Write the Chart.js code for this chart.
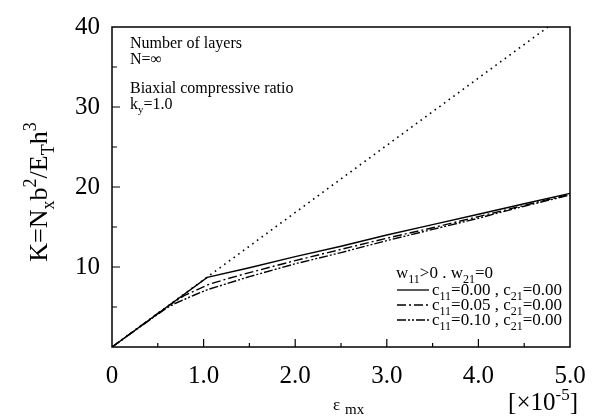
<!DOCTYPE html>
<html>
<head>
<meta charset="utf-8">
<script src="https://cdn.jsdelivr.net/npm/chart.js@4/dist/chart.umd.min.js"></script>
<style>
  html, body { margin: 0; padding: 0; background: #fff; }
</style>
</head>
<body>
<canvas id="bucklingChart" width="602" height="420"></canvas>
<script>
// strain axis (x 1e-5) and load parameter K
const xTickValues = [0, 1, 2, 3, 4, 5];
const yTickValues = [10, 20, 30, 40];

const linearX = [0, 4.76];
const linearK = [0, 40];

const c000X = [0, 1.04, 1.5, 2.0, 2.5, 3.0, 3.5, 4.0, 4.5, 5.0];
const c000K = [0, 8.7, 9.9, 11.3, 12.6, 14.0, 15.3, 16.6, 17.9, 19.2];

const c005X = [0, 0.5, 0.7, 0.8, 0.9, 1.05, 1.25, 1.5, 2.0, 2.5, 3.0, 3.5, 4.0, 4.5, 5.0];
const c005K = [0, 4.2, 5.8, 6.5, 7.0, 7.8, 8.5, 9.3, 10.8, 12.2, 13.6, 14.9, 16.3, 17.7, 19.1];

const c010X = [0, 0.5, 0.6, 0.7, 0.8, 0.9, 1.05, 1.25, 1.5, 2.0, 2.5, 3.0, 3.5, 4.0, 4.5, 5.0];
const c010K = [0, 4.1, 4.9, 5.5, 6.0, 6.5, 7.2, 7.9, 8.8, 10.4, 11.8, 13.3, 14.7, 16.1, 17.6, 19.0];

const SERIF = '"Liberation Serif", "DejaVu Serif", serif';

function pts(xs, ys) {
    return xs.map((x, i) => ({ x: x, y: ys[i] }));
}

// draws text with sub/superscripts, parts = [[text, 'n'|'sub'|'sup'], ...]
function drawRich(ctx, parts, x, y, size, align) {
    const small = Math.round(size * 0.68);
    let total = 0;
    parts.forEach(p => {
        ctx.font = (p[1] === 'n' ? size : small) + 'px ' + SERIF;
        total += ctx.measureText(p[0]).width;
    });
    let cx = x;
    if (align === 'center') cx = x - total / 2;
    if (align === 'right') cx = x - total;
    ctx.textAlign = 'left';
    ctx.textBaseline = 'alphabetic';
    parts.forEach(p => {
        let dy = 0;
        if (p[1] === 'sub') dy = size * 0.28;
        if (p[1] === 'sup') dy = -size * 0.42;
        ctx.font = (p[1] === 'n' ? size : small) + 'px ' + SERIF;
        ctx.fillText(p[0], cx, y + dy);
        cx += ctx.measureText(p[0]).width;
    });
}

const decorPlugin = {
    id: 'decor',
    afterDraw(chart) {
        const ctx = chart.ctx;
        const a = chart.chartArea;
        const xs = chart.scales.x;
        const ys = chart.scales.y;
        ctx.save();
        ctx.strokeStyle = '#000';
        ctx.fillStyle = '#000';

        // frame
        ctx.lineWidth = 1.5;
        ctx.strokeRect(a.left, a.top, a.right - a.left, a.bottom - a.top);

        // inward ticks
        ctx.lineWidth = 1.2;
        ctx.beginPath();
        for (let v = 0.5; v < 5; v += 0.5) {
            const px = xs.getPixelForValue(v);
            const len = Number.isInteger(v) ? 8 : 4;
            ctx.moveTo(px, a.bottom);
            ctx.lineTo(px, a.bottom - len);
        }
        for (let v = 5; v < 40; v += 5) {
            const py = ys.getPixelForValue(v);
            const len = v % 10 === 0 ? 8 : 5;
            ctx.moveTo(a.left, py);
            ctx.lineTo(a.left + len, py);
        }
        ctx.stroke();

        // notes in the upper left
        drawRich(ctx, [['Number of layers', 'n']], 130, 48, 16, 'left');
        drawRich(ctx, [['N=\u221E', 'n']], 130, 64, 16, 'left');
        drawRich(ctx, [['Biaxial compressive ratio', 'n']], 130, 93, 16, 'left');
        drawRich(ctx, [['k', 'n'], ['y', 'sub'], ['=1.0', 'n']], 130, 109, 16, 'left');

        // legend
        drawRich(ctx, [['w', 'n'], ['11', 'sub'], ['>0 . w', 'n'], ['21', 'sub'], ['=0', 'n']], 396, 278, 17, 'left');
        const rows = [
            { y: 290, dash: [] },
            { y: 305, dash: [9, 3, 2, 3] },
            { y: 320, dash: [9, 2, 2, 2, 2, 2] }
        ];
        const labels = ['0.00', '0.05', '0.10'];
        rows.forEach((r, i) => {
            ctx.lineWidth = 1.3;
            ctx.setLineDash(r.dash);
            ctx.beginPath();
            ctx.moveTo(397, r.y);
            ctx.lineTo(429, r.y);
            ctx.stroke();
            ctx.setLineDash([]);
            drawRich(ctx, [['c', 'n'], ['11', 'sub'], ['=' + labels[i] + ' , c', 'n'], ['21', 'sub'], ['=0.00', 'n']], 432, r.y + 5, 17, 'left');
        });

        // x axis title
        drawRich(ctx, [['\u03B5', 'n']], 333, 410, 17, 'left');
        drawRich(ctx, [['mx', 'n']], 345, 414, 15, 'left');
        drawRich(ctx, [['[\u00D710', 'n'], ['-5', 'sup'], [']', 'n']], 578, 410, 25, 'right');

        // y axis title
        ctx.translate(47, 192);
        ctx.rotate(-Math.PI / 2);
        drawRich(ctx, [['K=N', 'n'], ['x', 'sub'], ['b', 'n'], ['2', 'sup'], ['/E', 'n'], ['T', 'sub'], ['h', 'n'], ['3', 'sup']], 0, 0, 26, 'center');

        ctx.restore();
    }
};

new Chart(document.getElementById('bucklingChart'), {
    type: 'scatter',
    data: {
        datasets: [
            { data: pts(linearX, linearK), borderColor: '#000', borderWidth: 1.6, borderDash: [1.6, 4.2] },
            { data: pts(c000X, c000K), borderColor: '#000', borderWidth: 1.4 },
            { data: pts(c005X, c005K), borderColor: '#000', borderWidth: 1.4, borderDash: [9, 3, 2, 3] },
            { data: pts(c010X, c010K), borderColor: '#000', borderWidth: 1.4, borderDash: [9, 2, 2, 2, 2, 2] }
        ].map(d => Object.assign(d, { showLine: true, pointRadius: 0, fill: false, tension: 0 }))
    },
    options: {
        responsive: false,
        animation: false,
        devicePixelRatio: 1,
        layout: { padding: { top: 18, right: 32, left: 0, bottom: 0 } },
        plugins: {
            legend: { display: false },
            tooltip: { enabled: false }
        },
        scales: {
            x: {
                type: 'linear',
                min: 0,
                max: 5,
                afterBuildTicks: s => { s.ticks = xTickValues.map(v => ({ value: v })); },
                afterFit: s => { s.height = 73; },
                grid: { display: false, drawTicks: false },
                border: { display: false },
                ticks: {
                    padding: 14,
                    color: '#000',
                    font: { family: SERIF, size: 25 },
                    callback: v => v === 0 ? '0' : v.toFixed(1)
                }
            },
            y: {
                type: 'linear',
                min: 0,
                max: 40,
                afterBuildTicks: s => { s.ticks = yTickValues.map(v => ({ value: v })); },
                afterFit: s => { s.width = 112; },
                grid: { display: false, drawTicks: false },
                border: { display: false },
                ticks: {
                    padding: 12,
                    color: '#000',
                    font: { family: SERIF, size: 25 },
                    callback: v => String(v)
                }
            }
        }
    },
    plugins: [decorPlugin]
});
</script>
</body>
</html>
